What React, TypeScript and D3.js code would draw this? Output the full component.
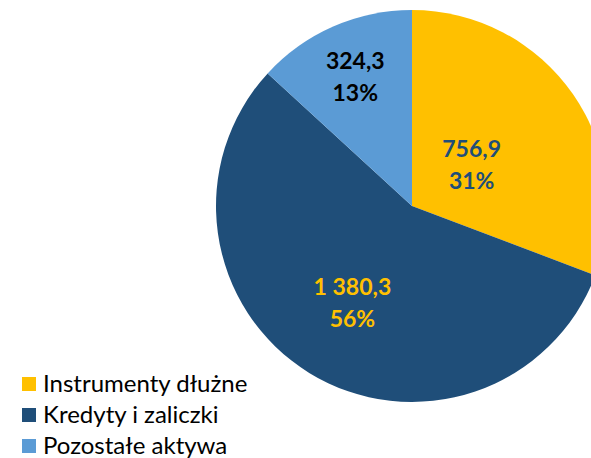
import React from 'react';
import * as d3 from 'd3';

const categories = ['Instrumenty dłużne', 'Kredyty i zaliczki', 'Pozostałe aktywa'];
const values = [756.9, 1380.3, 324.3];
const valueLabels = ['756,9', '1 380,3', '324,3'];
const percentLabels = ['31%', '56%', '13%'];
const colors = ['#FFC000', '#1F4E79', '#5B9BD5'];
const labelColors = ['#1F4E79', '#FFC000', '#000000'];
// "best fit" label distance from centre, as a share of the radius
const labelRadius = [0.37, 0.58, 0.72];

const W = 591;
const H = 458;
const cx = 412;
const cy = 206;
const radius = 196;
const font = 'Lato, "Open Sans", sans-serif';

export default function App() {
  const pie = d3.pie<number>().sort(null).value(d => d)(values);
  const arc = d3.arc<d3.PieArcDatum<number>>().innerRadius(0).outerRadius(radius);

  return (
    <svg width={W} height={H} style={{ position: 'absolute', left: 0, top: 0 }}>
      <rect width={W} height={H} fill="white" />
      <g transform={`translate(${cx},${cy})`}>
        {pie.map((p, i) => (
          <path key={i} d={arc(p) || ''} fill={colors[i]} />
        ))}
        {pie.map((p, i) => {
          const r = radius * labelRadius[i];
          const [x, y] = d3.arc<d3.PieArcDatum<number>>().innerRadius(r).outerRadius(r).centroid(p);
          return (
            <text key={i} x={x} y={y} textAnchor="middle" fontFamily={font} fontWeight="bold" fontSize={23} fill={labelColors[i]}>
              <tspan x={x} dy={-8}>{valueLabels[i]}</tspan>
              <tspan x={x} dy={32}>{percentLabels[i]}</tspan>
            </text>
          );
        })}
      </g>
      <g transform="translate(22,377)">
        {categories.map((c, i) => (
          <g key={c} transform={`translate(0,${i * 31})`}>
            <rect width={14} height={14} fill={colors[i]} />
            <text x={21} y={14.5} fontFamily={font} fontSize={24} fill="#000">{c}</text>
          </g>
        ))}
      </g>
    </svg>
  );
}
